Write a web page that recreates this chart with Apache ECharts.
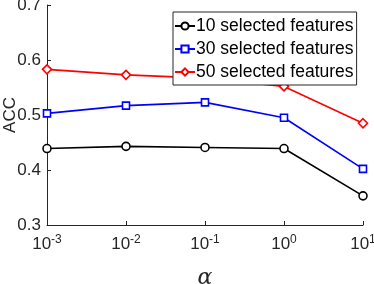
<!DOCTYPE html>
<html><head><meta charset="utf-8">
<script src="https://cdn.jsdelivr.net/npm/echarts@6/dist/echarts.min.js"></script>
<style>html,body{margin:0;padding:0;background:#fff}#c{width:374px;height:284px}</style>
</head><body><div id="c"></div>
<script>
const alphas = [0.001, 0.01, 0.1, 1, 10];
const sel10 = [0.439, 0.443, 0.441, 0.439, 0.353];
const sel30 = [0.503, 0.517, 0.523, 0.495, 0.402];
const sel50 = [0.583, 0.573, 0.567, 0.552, 0.485];
const yTicks = [0.3, 0.4, 0.5, 0.6, 0.7];
const names = ['10 selected features', '30 selected features', '50 selected features'];

const chart = echarts.init(document.getElementById('c'));
const font = 'Liberation Sans, Arial, sans-serif';
function mk(name, vals, color, symbol, size) {
  return {
    name, type: 'line', data: alphas.map((a, i) => [a, vals[i]]),
    symbol, symbolSize: size, showSymbol: true,
    lineStyle: { color, width: 1.6 },
    itemStyle: { color: '#fff', borderColor: color, borderWidth: 1.6 },
    color, z: 3
  };
}
chart.setOption({
  animation: false,
  backgroundColor: '#fff',
  grid: { left: 47, right: 11, top: 5, bottom: 59, containLabel: false, outerBoundsMode: 'none' },
  legend: {
    left: 173, top: 12, orient: 'vertical',
    padding: [5, 3, 4, 1], itemGap: 5, itemWidth: 20, itemHeight: 9,
    borderColor: '#262626', borderWidth: 1, backgroundColor: '#fff',
    textStyle: { fontSize: 17.5, fontFamily: font, color: '#000', padding: [0, 0, 0, -4] },
    data: names
  },
  xAxis: {
    type: 'log', logBase: 10, min: 0.001, max: 10,
    name: 'α', nameLocation: 'middle', nameGap: 42, nameMoveOverlap: false,
    nameTextStyle: { fontSize: 22, fontStyle: 'italic', fontFamily: 'DejaVu Serif, serif', color: '#262626' },
    axisLine: { lineStyle: { color: '#262626', width: 1 } },
    axisTick: { inside: true, length: 4, lineStyle: { color: '#262626' } },
    splitLine: { show: false },
    minorTick: { show: false },
    axisLabel: {
      margin: 9, color: '#262626',
      formatter: v => '{b|10}{s|' + Math.round(Math.log10(v)) + '}',
      rich: {
        b: { fontSize: 17, fontFamily: font, color: '#262626' },
        s: { fontSize: 12, fontFamily: font, color: '#262626', verticalAlign: 'top', padding: [0, 0, 9, 0] }
      }
    }
  },
  yAxis: {
    type: 'value', min: yTicks[0], max: yTicks[yTicks.length - 1], interval: 0.1,
    name: 'ACC', nameLocation: 'middle', nameGap: 28, nameMoveOverlap: false,
    nameTextStyle: { fontSize: 17, fontFamily: font, color: '#262626' },
    axisLine: { show: true, lineStyle: { color: '#262626', width: 1 } },
    axisTick: { show: true, inside: true, length: 4, lineStyle: { color: '#262626' } },
    splitLine: { show: false },
    axisLabel: { fontSize: 17, fontFamily: font, color: '#262626', margin: 6, formatter: v => v.toFixed(1) }
  },
  series: [
    mk(names[0], sel10, '#000000', 'circle', 8),
    mk(names[1], sel30, '#0000ff', 'rect', 7),
    mk(names[2], sel50, '#ff0000', 'diamond', 9)
  ]
});
</script></body></html>
